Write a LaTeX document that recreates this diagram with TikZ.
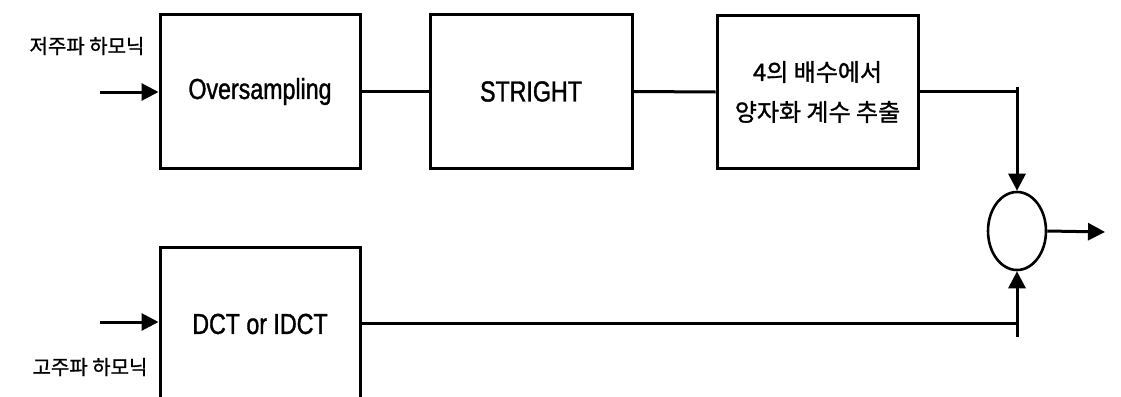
\documentclass[tikz,border=0pt]{standalone}
\usepackage{fontspec}
\setmainfont{Liberation Sans}[FakeStretch=0.8,FakeBold=1.2]
\newfontfamily\kr{Noto Sans CJK KR}[FakeBold=1.2]
\usetikzlibrary{arrows.meta,shapes.geometric}
\begin{document}
\begin{tikzpicture}[x=1pt,y=-1pt,
  block/.style={draw,line width=3pt,minimum width=200pt,minimum height=153pt,inner sep=0pt,
    font=\fontsize{29}{34}\selectfont},
  wire/.style={line width=3pt},
  arr/.style={line width=3pt,-{Triangle[length=17pt,width=17pt]}},
  lab/.style={font=\kr\fontsize{20}{24}\selectfont,inner sep=0pt}]
\useasboundingbox (0,0) rectangle (1121,396);
\clip (0,0) rectangle (1121,396);
\node[block] (over) at (260,91.5) {Oversampling};
\node[block,minimum width=202pt] (str) at (531,91.5) {STRIGHT};
\node[block,minimum width=201pt,align=center,font=\kr\fontsize{24}{40}\selectfont] (quant) at (817.5,92) {4의 배수에서\\양자화 계수 추출};
\node[block,minimum height=154pt] (dct) at (260,324) {DCT or IDCT};
\node[draw,line width=2.6pt,ellipse,minimum width=58pt,minimum height=78pt,inner sep=0pt] (sum) at (1017,231) {};
\node[lab] (lowlab) at (87,46) {저주파 하모닉};
\node[lab] (highlab) at (90,367) {고주파 하모닉};
\coordinate (in1) at (100,92);
\coordinate (in2) at (100,322);
\coordinate (c1) at (1017,91);
\coordinate (c1t) at (1017,87);
\coordinate (c2) at (1017,323);
\coordinate (c2b) at (1017,337);
\coordinate (out) at (1105,232);
\draw[arr] (in1) -- (over.west |- in1);
\draw[arr] (in2) -- (dct.west |- in2);
\draw[wire] (over.east) -- (str.west);
\draw[wire] (str.east) -- (quant.west);
\draw[wire] (quant.east |- c1) -- (c1);
\draw[arr] (c1t) -- (sum.north);
\draw[wire] (dct.east |- c2) -- (c2);
\draw[arr] (c2b) -- (sum.south);
\draw[arr] (sum.east) -- (out);
\end{tikzpicture}
\end{document}
